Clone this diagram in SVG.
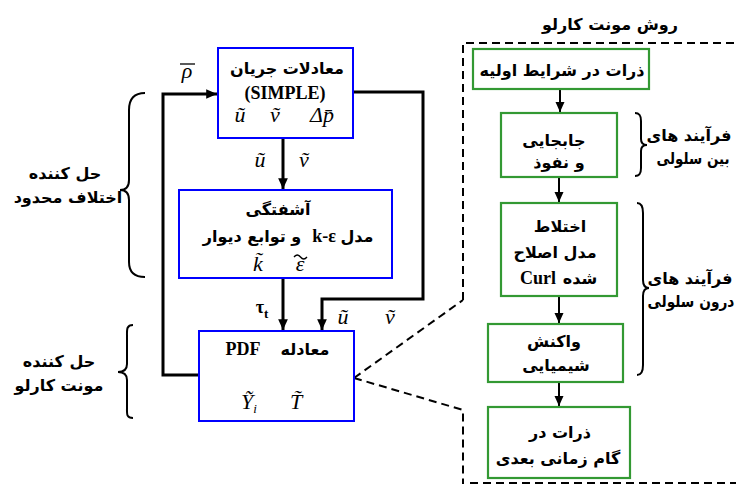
<svg xmlns="http://www.w3.org/2000/svg" width="736" height="484" viewBox="0 0 736 484">
<style>
.fa{font-family:"DejaVu Sans",sans-serif;font-weight:bold;font-size:16px;fill:#000;text-anchor:middle;direction:rtl}
.lt{font-family:"Liberation Serif",serif;font-weight:bold;font-size:18px;fill:#000;text-anchor:middle}
.mi{font-family:"Liberation Serif",serif;font-style:italic;font-size:22px;fill:#000;text-anchor:middle}
.bb{fill:#fff;stroke:#0000ff;stroke-width:2}
.gb{fill:#fff;stroke:#339933;stroke-width:2.2}
.th{fill:none;stroke:#000;stroke-width:3}
.tn{fill:none;stroke:#000;stroke-width:2}
.ds{fill:none;stroke:#000;stroke-width:2;stroke-dasharray:8,5}
.br{fill:none;stroke:#000;stroke-width:2}
.acc{fill:none;stroke:#000;stroke-width:1.3}
</style>
<defs>
<marker id="ah" viewBox="0 0 10 10" refX="10" refY="5" markerWidth="4.3" markerHeight="3.6" orient="auto" markerUnits="strokeWidth"><path d="M0,0.5 L10,5 L0,9.5 Z" fill="#000"/></marker>
<marker id="ah2" viewBox="0 0 10 10" refX="10" refY="5" markerWidth="6" markerHeight="5" orient="auto" markerUnits="strokeWidth"><path d="M0,0.5 L10,5 L0,9.5 Z" fill="#000"/></marker>
</defs>

<g id="connectors">
<path class="th" d="M199,375 H163 V94 H217" marker-end="url(#ah)"/>
<path class="th" d="M353,92 H423 V299 H322 V330" marker-end="url(#ah)"/>
<path class="th" d="M283,138 V189" marker-end="url(#ah)"/>
<path class="th" d="M283,278 V330" marker-end="url(#ah)"/>
<path class="tn" d="M560,89 V112" marker-end="url(#ah2)"/>
<path class="tn" d="M559,177 V202" marker-end="url(#ah2)"/>
<path class="tn" d="M559,296 V323" marker-end="url(#ah2)"/>
<path class="tn" d="M559,382 V406" marker-end="url(#ah2)"/>
<path class="ds" d="M463,300 V43 H736"/>
<path class="ds" d="M354,378 L463,300"/>
<path class="ds" d="M354,378 L463,410 V484"/>
<path class="ds" d="M470,483 H736" stroke="#999"/>
</g>

<g id="labels">
<text class="mi" x="187" y="78">ρ</text>
<path class="acc" d="M180,64 H195"/>
<text class="mi" x="260" y="167">ũ</text>
<text class="mi" x="304" y="167">ṽ</text>
<text class="lt" x="262" y="313">τ<tspan font-size="13" dy="5">t</tspan></text>
<text class="mi" x="343" y="324">ũ</text>
<text class="mi" x="390" y="324">ṽ</text>
</g>

<g id="flow-eq">
<rect class="bb" x="218" y="48" width="135" height="90"/>
<text class="fa" x="287" y="74" font-size="17.5">معادلات جریان</text>
<text class="lt" x="285" y="99">(SIMPLE)</text>
<text class="mi" x="240" y="122">ũ</text>
<text class="mi" x="275" y="122">ṽ</text>
<text class="mi" x="322" y="122">Δp̄</text>
</g>

<g id="turbulence">
<rect class="bb" x="179" y="190" width="213" height="88"/>
<text class="fa" x="278" y="215" font-size="17">آشفتگی</text>
<text class="fa" x="357" y="242" font-size="17">مدل</text>
<text class="lt" x="324" y="242" font-size="19">k-ε</text>
<text class="fa" x="252" y="242" font-size="17">و توابع دیوار</text>
<text class="mi" x="258" y="271">k̃</text>
<text class="mi" x="300" y="271">ε</text>
<path class="acc" d="M294,257 q3.3,-4 6.5,0 t6.5,0"/>
</g>

<g id="pdf">
<rect class="bb" x="199" y="331" width="155" height="90"/>
<text class="fa" x="305" y="355">معادله</text>
<text class="lt" x="243" y="355">PDF</text>
<text class="mi" x="249" y="409">Ỹ<tspan font-size="13" dy="4">i</tspan></text>
<text class="mi" x="296" y="409">T̃</text>
</g>

<g id="brace-fd">
<path class="br" d="M145,93 C134,93 129,99 129,110 L129,180 C129,187 126,190 120,190 C126,190 129,193 129,200 L129,262 C129,272 134,277 145,277"/>
<text class="fa" x="65" y="179">حل کننده</text>
<text class="fa" x="68" y="203">اختلاف محدود</text>
</g>

<g id="brace-mc">
<path class="br" d="M133,325 C126,325 127,330 127,338 L127,364 C127,369 124,372 118,372 C124,372 127,375 127,380 L127,406 C127,414 126,418 133,418"/>
<text class="fa" x="59" y="367">حل کننده</text>
<text class="fa" x="59" y="391">مونت کارلو</text>
</g>

<text id="title" class="fa" x="610" y="30" font-size="18.5">روش مونت کارلو</text>

<g id="init">
<rect class="gb" x="473" y="49" width="176" height="40"/>
<text class="fa" x="562" y="76" font-size="15.3">ذرات در شرایط اولیه</text>
</g>

<g id="convection">
<rect class="gb" x="501" y="113" width="116" height="64"/>
<text class="fa" x="554" y="146">جابجایی</text>
<text class="fa" x="559" y="168">و نفوذ</text>
</g>

<g id="mixing">
<rect class="gb" x="501" y="203" width="116" height="93"/>
<text class="fa" x="560" y="232">اختلاط</text>
<text class="fa" x="555" y="258">مدل اصلاح</text>
<text class="fa" x="580" y="284">شده</text>
<text class="lt" x="538" y="284">Curl</text>
</g>

<g id="reaction">
<rect class="gb" x="488" y="324" width="135" height="58"/>
<text class="fa" x="554" y="347">واکنش</text>
<text class="fa" x="556" y="371">شیمیایی</text>
</g>

<g id="next">
<rect class="gb" x="488" y="407" width="142" height="71"/>
<text class="fa" x="560" y="438">ذرات در</text>
<text class="fa" x="558" y="464">گام زمانی بعدی</text>
</g>

<g id="brace-inter">
<path class="br" d="M635,113 C640,113 641,116 641,121 L641,139 C641,143 643,145 647,145 C643,145 641,147 641,151 L641,168 C641,173 640,176 635,176"/>
<text class="fa" x="689" y="141" font-size="15">فرآیند های</text>
<text class="fa" transform="translate(693,164) scale(0.84,1)" x="0" y="0" font-size="15">بین سلولی</text>
</g>

<g id="brace-intra">
<path class="br" d="M637,203 C642,203 643,207 643,213 L643,280 C643,285 645,288 649,288 C645,288 643,291 643,296 L643,365 C643,371 642,375 637,375"/>
<text class="fa" x="690" y="284" font-size="15">فرآیند های</text>
<text class="fa" transform="translate(691,307) scale(0.86,1)" x="0" y="0" font-size="15">درون سلولی</text>
</g>
</svg>
